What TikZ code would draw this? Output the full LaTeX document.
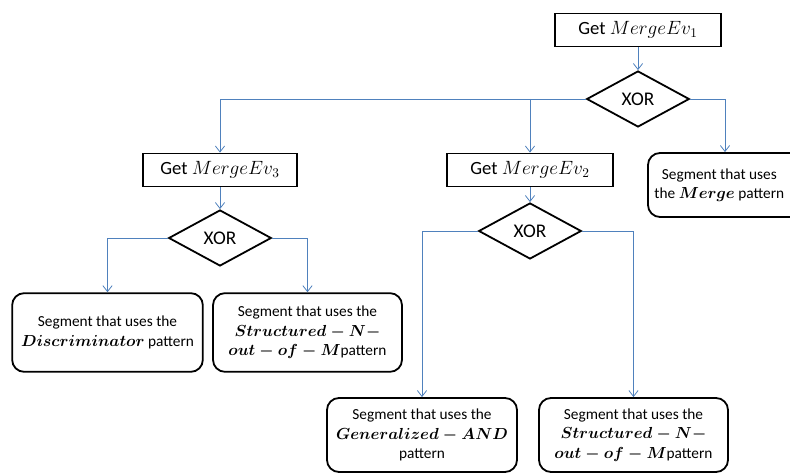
\documentclass[tikz,border=0pt]{standalone}
\usepackage{amsmath,amssymb}
\usepackage{fontspec}
\setmainfont{Carlito}
\usepackage{xcolor}
\usetikzlibrary{arrows.meta,shapes.geometric,positioning,calc}
\definecolor{linkblue}{RGB}{79,129,189}

\begin{document}
\begin{tikzpicture}[
  x=0.75pt,y=-0.75pt,
  getbox/.style={rectangle,draw,line width=1.35pt,minimum width=125pt,
                 minimum height=24.75pt,align=center,
                 font=\fontsize{14}{16}\selectfont},
  xorbox/.style={diamond,draw,line width=1.35pt,aspect=1.84,inner sep=0pt,
                 minimum width=77pt,minimum height=42pt,
                 font=\fontsize{14.5}{16}\selectfont},
  segbox/.style={rectangle,draw,line width=1.35pt,rounded corners=9pt,
                 minimum width=142.5pt,minimum height=59pt,align=center,
                 font=\fontsize{11.5}{14.5}\selectfont},
  arrow/.style={-{Straight Barb[length=4.5pt,width=7pt]},linkblue,line width=0.6pt},
]
\useasboundingbox (0,0) rectangle (790,473);

% top level
\node[getbox] (get1) at (638,30) {Get $MergeEv_1$};
\node[xorbox] (xor1) at (638,99) {XOR};
\node[segbox,minimum width=123pt,minimum height=48pt] (merge) at (730,185)
  {Segment that uses\hspace*{16pt}\\the $\boldsymbol{Merge}$ pattern\hspace*{16pt}};

% left branch
\node[getbox,minimum width=115.5pt] (get3) at (220,170) {Get $MergeEv_3$};
\node[xorbox] (xor3) at (220,238) {XOR};
\node[segbox,minimum width=143pt] (discr) at (107.5,332.5)
  {Segment that uses the\\$\boldsymbol{Discriminator}$ pattern};
\node[segbox,minimum width=141.75pt] (strucA) at (307.5,332.5)
  {Segment that uses the\\$\boldsymbol{Structured-N-}$\\$\boldsymbol{out-of-M}$pattern};

% middle branch
\node[getbox] (get2) at (530,170) {Get $MergeEv_2$};
\node[xorbox] (xor2) at (530,231) {XOR};
\node[segbox,minimum height=55.5pt] (gand) at (422,435)
  {Segment that uses the\\$\boldsymbol{Generalized-AND}$\\pattern};
\node[segbox,minimum width=141.75pt,minimum height=55.5pt] (strucB) at (633.5,435)
  {Segment that uses the\\$\boldsymbol{Structured-N-}$\\$\boldsymbol{out-of-M}$pattern};

% connectors
\draw[arrow] (get1.south) -- (xor1.north);
\draw[arrow] (xor1.west) -| (get3.north);
\draw[arrow] (xor1.west -| get2.north) -- (get2.north);
\draw[arrow] (xor1.east) -| ($(merge.north)+(-5,0)$);

\draw[arrow] (get3.south) -- (xor3.north);
\draw[arrow] (xor3.west) -| (discr.north);
\draw[arrow] (xor3.east) -| (strucA.north);

\draw[arrow] (get2.south) -- (xor2.north);
\draw[arrow] (xor2.west) -| (gand.north);
\draw[arrow] (xor2.east) -| (strucB.north);
\end{tikzpicture}
\end{document}
